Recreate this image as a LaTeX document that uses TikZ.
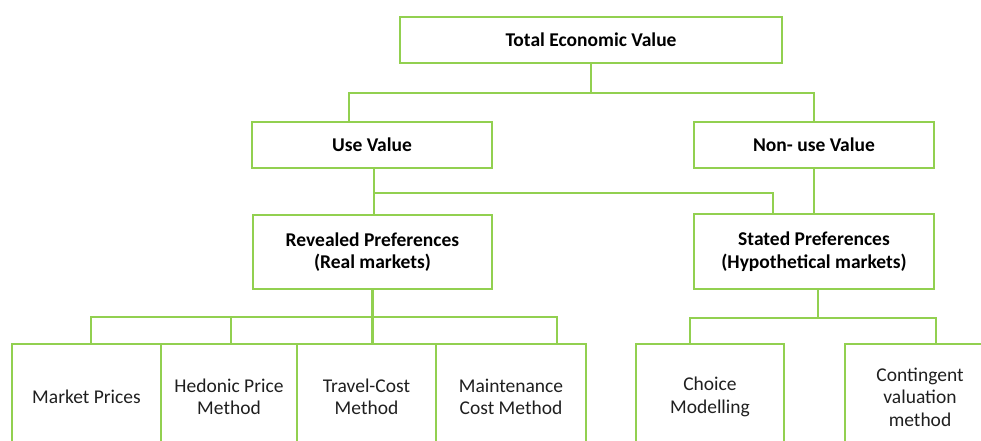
\documentclass[tikz,border=0pt]{standalone}
\usepackage{fontspec}
\setmainfont{Carlito}
\usepackage{tikz}
\usetikzlibrary{positioning}

\definecolor{leaf}{RGB}{146,208,80}

\begin{document}
\begin{tikzpicture}[
  x=1pt, y=-1pt,
  font=\fontsize{19.5}{22.5}\selectfont,
  box/.style={draw=leaf, line width=2.8pt, align=center, inner sep=0pt, text=black!88},
  head/.style={box, font=\fontsize{19.5}{22.5}\selectfont\bfseries, text=black},
  leafbox/.style={box, minimum height=106pt},
  link/.style={draw=leaf, line width=2.8pt}
]
\clip (0,0) rectangle (981,441);

\node[head, minimum width=382pt, minimum height=46pt] (tev) at (591,40) {Total Economic Value};
\node[head, minimum width=240pt, minimum height=46pt] (use) at (372,145) {Use Value};
\node[head, minimum width=240pt, minimum height=46pt] (nonuse) at (814,145) {Non- use Value};
\node[head, minimum width=239pt, minimum height=74pt] (revealed) at (372.5,252) {Revealed Preferences\\(Real markets)};
\node[head, minimum width=240pt, minimum height=75pt] (stated) at (814,251.5) {Stated Preferences\\(Hypothetical markets)};

% methods row, boxes share their side walls
\node[leafbox, minimum width=149pt] (market) at (86.5,397) {Market Prices};
\node[leafbox, minimum width=136pt] (hedonic) at (229,397) {Hedonic Price\\Method};
\node[leafbox, minimum width=139pt] (travel) at (366.5,397) {Travel-Cost\\Method};
\node[leafbox, minimum width=150pt] (maint) at (511,397) {Maintenance\\Cost Method};
\node[leafbox, minimum width=148pt] (choice) at (710,397) {Choice\\Modelling};
\node[leafbox, minimum width=150pt] (cont) at (920,397) {Contingent\\valuation\\method};

\coordinate (tj) at (591,93);
\coordinate (uj) at (374,193);
\coordinate (rj) at (372.5,317);
\coordinate (sj) at (818,318);

\draw[link] (tev.south) -- (tj);
\draw[link] (tj) -| ([xshift=-23pt]use.north);
\draw[link] (tj) -| (nonuse.north);

\draw[link] ([xshift=2pt]use.south) -- ([xshift=1.5pt]revealed.north);
\draw[link] (uj) -| ([xshift=-41pt]stated.north);
\draw[link] (nonuse.south) -- (stated.north);

\draw[link] (revealed.south) -- (rj);
\draw[link] (rj) -| ([xshift=4.5pt]market.north);
\draw[link] (rj) -| ([xshift=2pt]hedonic.north);
\draw[link] (rj) -| ([xshift=46pt]maint.north);
\draw[link] (rj) -- ([xshift=6pt]travel.north);

\draw[link] ([xshift=4pt]stated.south) -- (sj);
\draw[link] (sj) -| ([xshift=-20pt]choice.north);
\draw[link] (sj) -| ([xshift=16pt]cont.north);
\end{tikzpicture}
\end{document}
